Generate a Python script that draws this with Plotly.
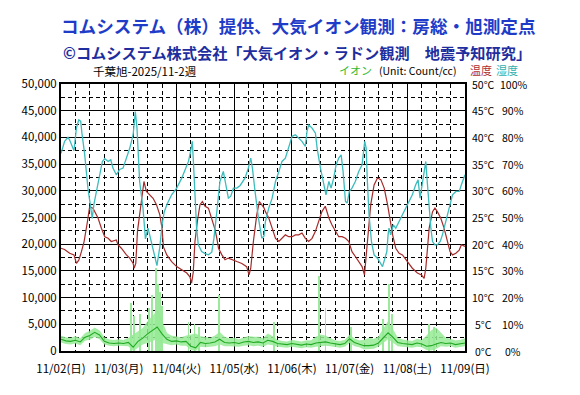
import plotly.graph_objects as go

# ---------------- data ----------------
day_labels = ["11/02(日)", "11/03(月)", "11/04(火)", "11/05(水)", "11/06(木)",
              "11/07(金)", "11/08(土)", "11/09(日)"]
day_hours = [0, 24, 48, 72, 96, 120, 144, 168]

ion_ticks = [0, 5000, 10000, 15000, 20000, 25000, 30000, 35000, 40000, 45000, 50000]
temp_ticks = [0, 5, 10, 15, 20, 25, 30, 35, 40, 45, 50]
temp_labels = ["0°C", "5°C", "10°C", "15°C", "20°C", "25°C", "30°C", "35°C", "40°C", "45°C", "50°C"]
hum_ticks = [0, 10, 20, 30, 40, 50, 60, 70, 80, 90, 100]
hum_labels = ["0%", "10%", "20%", "30%", "40%", "50%", "60%", "70%", "80%", "90%", "100%"]

# humidity (%)
hum_hours = [0, 1.5, 2.9, 3.6, 5.4, 6.4, 7.4, 8.2, 8.7, 9.8, 11.2, 12.2, 13.0, 13.7, 15.4,
             17.2, 18.2, 19.6, 20.7, 21.6, 23.0, 24.4, 25.8, 27.2, 28.6, 30.0, 30.9, 31.6,
             32.7, 34.1, 35.1, 36.2, 37.6, 39.0, 39.9, 41.1, 42.0, 42.9, 44.0, 46.0, 48.1,
             50.2, 51.6, 53.0, 53.9, 54.6, 55.0, 55.7, 56.4, 57.1, 58.5, 59.9, 61.3, 62.7,
             63.6, 64.8, 66.1, 67.5, 68.5, 69.6, 70.6, 71.7, 73.1, 74.5, 76.5, 77.9, 78.9,
             79.6, 80.7, 82.1, 83.5, 84.4, 85.0, 86.4, 87.8, 89.2, 90.6, 91.9, 93.3, 94.7,
             96.1, 97.5, 98.9, 100.2, 101.6, 102.3, 103.0, 104.4, 105.8, 106.5, 107.9, 109.3,
             110.2, 111.4, 112.3, 113.4, 114.4, 115.5, 116.5, 117.3, 118.3, 119.0, 119.9,
             121.0, 122.4, 123.8, 125.2, 126.3, 126.9, 127.4, 128.1, 129.1, 130.2, 131.6,
             133.0, 133.7, 134.7, 135.5, 136.0, 136.4, 137.1, 138.2, 139.2, 140.6, 142.0,
             143.4, 144.8, 146.1, 147.5, 148.5, 149.3, 150.3, 151.0, 151.7, 152.4, 153.1,
             153.8, 154.5, 155.5, 156.5, 157.7, 158.6, 159.6, 160.7, 161.8, 162.8, 164.2,
             165.6, 166.5, 168.0]
hum_values = [74, 78.5, 80, 79, 75, 83.5, 86.6, 86, 81.6, 74, 61, 53.5, 49.7, 55, 63.5,
              71, 72, 71, 71.6, 68.5, 66, 68, 68.5, 72, 76, 81, 89.7, 83.5,
              63.5, 53.5, 42, 46, 41, 36, 32, 39, 47, 52, 54.75, 58.5, 61,
              64.75, 68, 71, 74.75, 78.5, 72, 59.75, 46, 39.75, 37.25, 36.5, 36, 37,
              42.25, 52.25, 63.5, 67.25, 62.25, 57.25, 58, 61, 61, 62, 64.75, 68.5, 72.25,
              68.5, 59.75, 49.75, 42.25, 43, 48.5, 53.5, 57.25, 63.5, 67.25, 71, 72.25, 76,
              80.4, 81, 79.75, 78.5, 76.6, 82.25, 84.75, 83.5, 81.6, 76, 68.5, 62.25,
              58.5, 63.5, 61, 64.75, 69.75, 72.25, 73.5, 67.25, 56, 55.4, 59.75,
              61, 63.5, 67.25, 69.75, 78.5, 76, 63.5, 51, 41, 36, 34.75,
              32.9, 31.6, 34.75, 37.25, 43.5, 46, 43.5, 47.25, 46, 48.5, 51,
              53.5, 56, 58.5, 62.25, 64.1, 57.25, 63.5, 68.5, 71, 62.25, 53.5,
              46, 41, 39.75, 39.75, 41, 43.5, 47.25, 51, 54.75, 58.5, 59.75,
              59.75, 62.25, 66]

# temperature (°C)
temp_hours = [0, 1.5, 3.6, 5.4, 6.4, 7.4, 8.5, 9.6, 11.0, 11.9, 13.3, 14.3, 15.4, 16.8,
              18.2, 19.6, 20.9, 23.0, 23.7, 25.1, 27.2, 28.6, 30.0, 30.4, 31.1, 31.8, 32.7,
              33.7, 34.5, 35.5, 36.9, 38.3, 39.7, 41.1, 42.0, 42.6, 44.0, 46.0, 48.1, 50.2,
              52.3, 53.6, 54.3, 55.0, 55.7, 56.7, 57.8, 58.8, 59.9, 61.3, 62.7, 64.1, 64.8,
              65.5, 66.9, 68.2, 69.6, 71.0, 73.1, 75.2, 77.2, 78.2, 78.9, 80.0, 81.4, 82.5,
              83.5, 84.4, 85.0, 86.4, 87.8, 89.2, 90.6, 91.9, 93.3, 94.7, 96.1, 97.5, 98.9,
              100.2, 101.6, 103.0, 104.4, 105.8, 107.2, 108.5, 109.9, 111.4, 112.7, 114.1,
              115.5, 116.9, 118.3, 119.7, 121.0, 122.4, 123.8, 125.2, 126.2, 126.7, 127.7,
              128.8, 130.2, 131.6, 133.0, 134.4, 135.8, 136.9, 137.9, 139.2, 140.6, 142.0,
              143.4, 144.8, 146.1, 148.2, 149.9, 151.0, 151.7, 152.4, 153.1, 154.5, 155.5,
              156.5, 157.9, 159.3, 160.7, 161.8, 162.8, 164.2, 165.6, 166.5, 168.0]
temp_values = [19.25, 19, 18.3, 18, 16.4, 17, 18.6, 20.5, 24.25, 27, 26.75, 25.8, 24.9, 23,
               21.4, 21.1, 20.5, 20.8, 19.9, 19.25, 18, 17.4, 16.4, 15.5, 16.4, 22.4, 25.5,
               29.25, 31.75, 29.9, 29.25, 28.6, 27.4, 25.5, 23, 19.5, 18, 16.75, 15.8, 15.2,
               14.6, 13.9, 12.7, 14.75, 20.5, 24.25, 27.4, 28, 27.1, 26.75, 24.9, 22.7, 21.1,
               19.25, 18, 17.1, 17.4, 17.1, 16.75, 16.4, 15.8, 14.25, 15.5, 20.5, 25.5, 28,
               27.4, 26.8, 26.1, 24.9, 23, 21.1, 20.5, 21.1, 21.75, 21.4, 21.4, 21.75, 21.75,
               22.1, 21.1, 20.5, 21.1, 22.4, 24.25, 26.1, 27.1, 24.9, 23.6, 22.4,
               21.4, 21.4, 21.1, 20.5, 18.6, 17.7, 16.75, 15.8, 14.25, 16.75, 21,
               27.4, 31.1, 32.4, 32.1, 30.5, 27.4, 24.25, 21.75, 19.25, 18.3, 18,
               17.1, 16.4, 15.5, 14.6, 14.25, 13.6, 15.5, 19.25, 23, 26.1, 26.75,
               26.1, 24.9, 23, 20.5, 18.6, 18, 18.3, 18.9, 19.9, 19.6]

# ion counts (Count/cc), 2-hourly mean and range
ion_hours = [0, 2, 4, 6, 8, 10, 12, 14, 16, 18, 20, 22, 24, 26, 28, 30, 32, 34, 36, 38, 40,
             42, 44, 46, 48, 50, 52, 54, 56, 58, 60, 62, 64, 66, 68, 70, 72, 74, 76, 78, 80,
             82, 84, 86, 88, 90, 92, 94, 96, 98, 100, 102, 104, 106, 108, 110, 112, 114, 116,
             118, 120, 122, 124, 126, 128, 130, 132, 134, 136, 138, 140, 142, 144, 146, 148,
             150, 152, 154, 156, 158, 160, 162, 164, 166, 168]
ion_mean = [2200, 1900, 1800, 2000, 1700, 2600, 2900, 3500, 3000, 1800, 1500, 1400, 1500, 1400,
            1600, 700, 1800, 2400, 3200, 3800, 4500, 3200, 2200, 1800, 1900, 1700, 1800, 900,
            600, 1600, 1400, 1500, 1700, 2200, 1600, 1500, 1600, 1400, 1700, 1800, 1600, 1700,
            1500, 2000, 1800, 1400, 1300, 1200, 1400, 1300, 1100, 1300, 1200, 1500, 1600, 1700,
            1500, 1300, 1200, 1400, 2300, 1600, 1300, 1000, 1000, 1100, 1500, 2500, 3400, 2600,
            1600, 1400, 1300, 1200, 1500, 1300, 900, 1000, 1300, 1600, 1400, 1500, 1200, 1300,
            1500]
ion_max = [2800, 2500, 2400, 2700, 2300, 3300, 3700, 4300, 3800, 2500, 2100, 2000, 2100, 2000,
           2400, 3000, 3500, 4200, 5500, 6500, 7500, 5500, 3300, 2800, 2700, 2500, 2800, 3000,
           3200, 2700, 2600, 2400, 2800, 3500, 2600, 2300, 2400, 2100, 2500, 2700, 2600, 2600,
           2300, 3200, 2700, 2000, 1800, 1700, 2000, 1900, 1700, 1900, 1900, 2600, 3000, 2800,
           2300, 1900, 1800, 2000, 3000, 2300, 1900, 2000, 2400, 2200, 2600, 4000, 5500, 4000,
           2400, 2100, 1900, 1800, 2200, 2000, 2800, 3800, 4300, 3300, 2400, 2200, 1900, 2000,
           2300]
ion_min = [1600, 1300, 1200, 1400, 1100, 1900, 2100, 2600, 2200, 1200, 1000, 900, 1000, 900,
           900, 0, 600, 1200, 1500, 1800, 2200, 1500, 1300, 1100, 1200, 1000, 1000, 200,
           0, 800, 700, 800, 900, 1200, 900, 900, 900, 800, 1000, 1100, 900, 1000,
           800, 1200, 1100, 800, 700, 600, 800, 700, 500, 700, 600, 800, 900, 1000,
           900, 700, 600, 800, 1500, 900, 700, 300, 300, 400, 800, 1500, 2200, 1600,
           900, 800, 700, 600, 800, 700, 200, 100, 400, 900, 800, 900, 600, 700,
           900]
# short-lived ion spikes (hour, peak count)
spike_hours = [29.0, 30.5, 33.0, 36.5, 38.0, 39.5, 40.3, 41.0, 42.0, 53.0, 55.5, 57.5, 65.7,
               88.6, 107.2, 110.0, 120.5, 134.0, 136.4, 137.5, 153.0, 155.0]
spike_tops = [9000, 6500, 7000, 8000, 10500, 15500, 12500, 11000, 8500, 5500, 5000, 4500, 10500,
              5500, 14000, 8000, 4500, 6000, 12500, 7000, 5000, 4500]

title1 = "コムシステム（株）提供、大気イオン観測：房総・旭測定点"
title2 = "©コムシステム株式会社「大気イオン・ラドン観測　地震予知研究」"
subtitle = "千葉旭-2025/11-2週"

# ---------------- figure ----------------
W, H = 580, 395
L, R, T, B = 53, 457, 76, 343
FONT = "Noto Sans CJK JP, sans-serif"

def px(xp):
    return (xp - L) / (R - L)

def py(yp):
    return (B - yp) / (B - T)

fig = go.Figure()

fig.add_trace(go.Bar(x=spike_hours, y=spike_tops, width=0.35, marker=dict(color="#9ce89c", line=dict(width=0)),
                     showlegend=False, hoverinfo="skip"))
fig.add_trace(go.Scatter(x=ion_hours, y=ion_min, mode="lines", line=dict(width=0),
                         hoverinfo="skip", showlegend=False))
fig.add_trace(go.Scatter(x=ion_hours, y=ion_max, mode="lines", line=dict(width=0.6, color="#8fe88f"),
                         fill="tonexty", fillcolor="rgba(150,235,150,0.85)", showlegend=False))
fig.add_trace(go.Scatter(x=ion_hours, y=ion_mean, mode="lines",
                         line=dict(color="#22aa22", width=1.1), showlegend=False))
fig.add_trace(go.Scatter(x=temp_hours, y=temp_values, mode="lines", yaxis="y2",
                         line=dict(color="#a52a2a", width=1.2), showlegend=False))
fig.add_trace(go.Scatter(x=hum_hours, y=hum_values, mode="lines", yaxis="y3",
                         line=dict(color="#3cbcbc", width=1.3), showlegend=False))

small = dict(borderpad=0)
ann = []
ann.append(dict(text="<b>" + title1 + "</b>", x=px(290), y=py(18), xref="paper", yref="paper",
                xanchor="center", yanchor="middle", showarrow=False,
                font=dict(family=FONT, size=17.6, color="#1e3cc8")))
ann.append(dict(text="<b>" + title2 + "</b>", x=px(289), y=py(44), xref="paper", yref="paper",
                xanchor="center", yanchor="middle", showarrow=False,
                font=dict(family=FONT, size=15.2, color="#1e2e9e")))
ann.append(dict(text=subtitle, x=px(84), y=py(63), xref="paper", yref="paper",
                xanchor="left", yanchor="middle", showarrow=False,
                font=dict(family=FONT, size=11.5, color="black"), **small))
ann.append(dict(text="イオン", x=px(330), y=py(62), xref="paper", yref="paper",
                xanchor="left", yanchor="middle", showarrow=False,
                font=dict(family=FONT, size=11, color="#33bb33"), **small))
ann.append(dict(text="(Unit: Count/cc)", x=px(370), y=py(62), xref="paper", yref="paper",
                xanchor="left", yanchor="middle", showarrow=False,
                font=dict(family=FONT, size=10.5, color="black"), **small))
ann.append(dict(text="温度", x=px(461), y=py(62), xref="paper", yref="paper",
                xanchor="left", yanchor="middle", showarrow=False,
                font=dict(family=FONT, size=11, color="#b03030"), **small))
ann.append(dict(text="湿度", x=px(487), y=py(62), xref="paper", yref="paper",
                xanchor="left", yanchor="middle", showarrow=False,
                font=dict(family=FONT, size=11, color="#30b0b0"), **small))
for v, t in zip(temp_ticks, temp_labels):
    ann.append(dict(text=t, x=px(475), y=v, xref="paper", yref="y2", xanchor="center",
                    yanchor="middle", showarrow=False,
                    font=dict(family=FONT, size=10.5, color="black"), **small))
for v, t in zip(hum_ticks, hum_labels):
    ann.append(dict(text=t, x=px(505), y=v, xref="paper", yref="y3", xanchor="center",
                    yanchor="middle", showarrow=False,
                    font=dict(family=FONT, size=10.5, color="black"), **small))

fig.update_layout(
    width=W, height=H,
    margin=dict(l=L, r=W - R, t=T, b=H - B, pad=0),
    paper_bgcolor="white", plot_bgcolor="white",
    font=dict(family=FONT, size=11.5, color="black"),
    annotations=ann,
    bargap=0,
    xaxis=dict(range=[0, 168], tickvals=day_hours, ticktext=day_labels, ticks="",
               ticklabelstandoff=6,
               showgrid=True, gridcolor="black", gridwidth=1,
               minor=dict(dtick=6, tick0=0, showgrid=True, gridcolor="black", gridwidth=1,
                          griddash="4px,3px"),
               showline=True, linecolor="black", linewidth=2, mirror=True,
               zeroline=False, tickfont=dict(size=11.5), fixedrange=True),
    yaxis=dict(range=[0, 50000], tickvals=ion_ticks, tickformat=",", ticks="",
               showgrid=True, gridcolor="black", gridwidth=1,
               minor=dict(dtick=2500, tick0=0, showgrid=True, gridcolor="black", gridwidth=1,
                          griddash="4px,3px"),
               showline=True, linecolor="black", linewidth=2, mirror=True,
               zeroline=False, tickfont=dict(size=11.5), fixedrange=True),
    yaxis2=dict(range=[0, 50], overlaying="y", side="right", visible=False),
    yaxis3=dict(range=[0, 100], overlaying="y", side="right", visible=False),
    showlegend=False,
)

fig.write_html("out.html")
